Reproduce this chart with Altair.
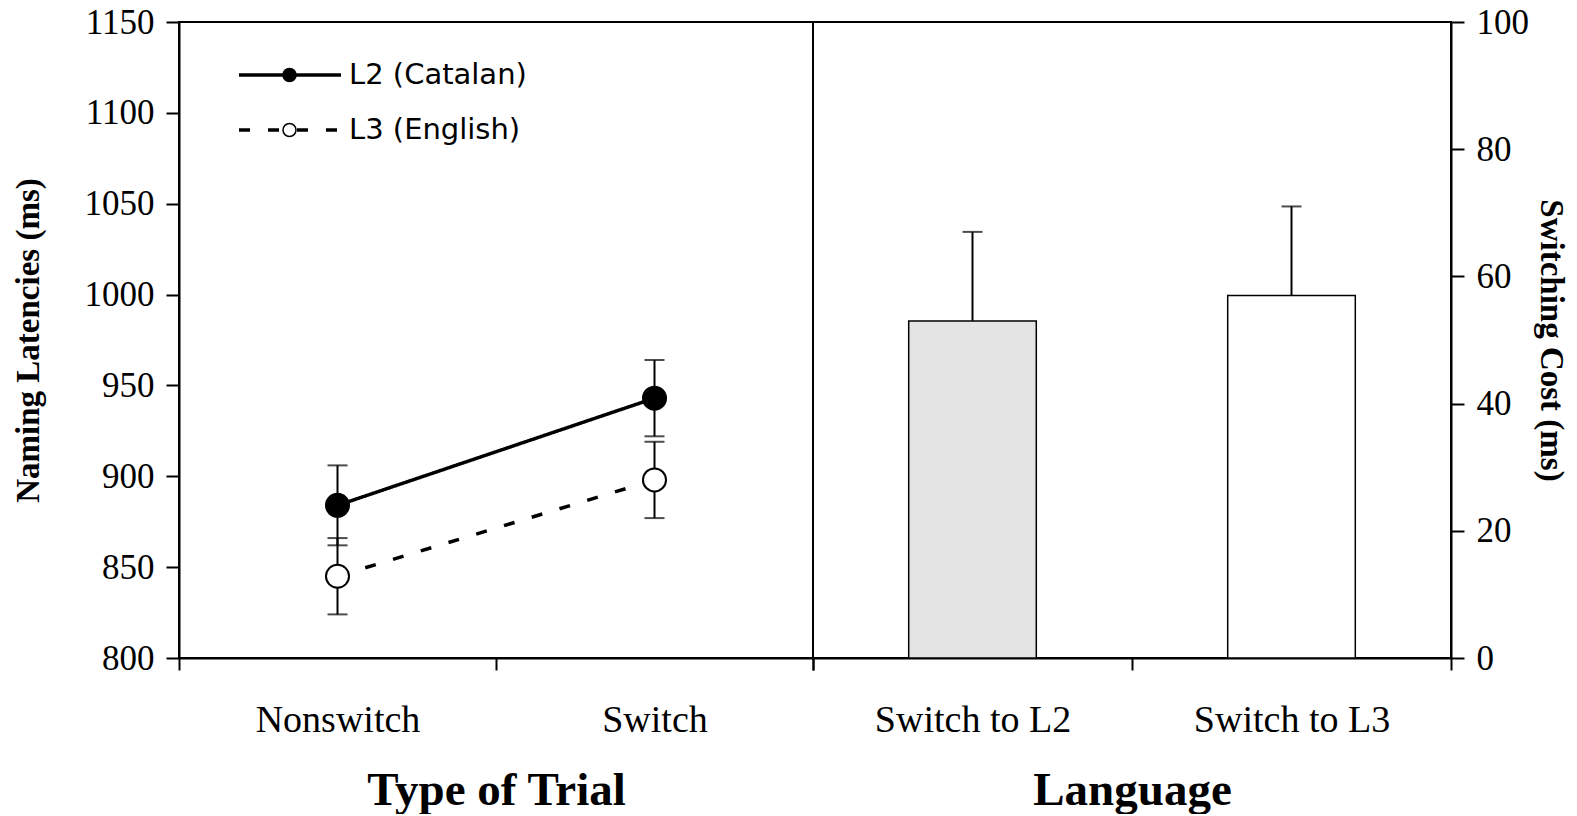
import altair as alt
import pandas as pd

# ---- data ----
trials = ["Nonswitch", "Switch"]
languages = ["L2 (Catalan)", "L3 (English)"]
l2_means = [884, 943]
l2_errors = [22, 21]
l3_means = [845, 898]
l3_errors = [21, 21]

cost_labels = ["Switch to L2", "Switch to L3"]
cost_means = [53, 57]
cost_errors = [14, 14]

SERIF = "Liberation Serif"
SANS = "DejaVu Sans"

rows = []
for lang, means, errs in [(languages[0], l2_means, l2_errors),
                          (languages[1], l3_means, l3_errors)]:
    for t, m, e in zip(trials, means, errs):
        rows.append({"trial": t, "lang": lang, "marker": lang,
                     "mean": m, "lo": m - e, "hi": m + e})
lat = pd.DataFrame(rows)
caps = lat.melt(id_vars=["trial", "lang"], value_vars=["lo", "hi"], value_name="cap")

cost = pd.DataFrame({
    "cond": cost_labels,
    "mean": cost_means,
    "hi": [m + e for m, e in zip(cost_means, cost_errors)],
})


def x_axis(title):
    return alt.Axis(
        title=title, tickBand="extent", labelAngle=0, tickSize=12, tickWidth=2,
        tickColor="black", domainColor="black", domainWidth=2,
        labelFont=SERIF, labelFontSize=38, labelColor="black", labelPadding=31,
        labelLimit=0,
        titleFont=SERIF, titleFontSize=47, titleFontWeight="bold",
        titleColor="black", titlePadding=28, grid=False,
    )


def y_axis(title, values, orient, tpad):
    return alt.Axis(
        title=title, values=values, orient=orient, grid=False, format="d",
        tickSize=13, tickWidth=2, tickColor="black",
        domainColor="black", domainWidth=2,
        labelFont=SERIF, labelFontSize=35, labelColor="black", labelPadding=12,
        titleFont=SERIF, titleFontSize=33, titleFontWeight="bold",
        titleColor="black", titlePadding=tpad,
    )


band = alt.Scale(type="band", paddingInner=0, paddingOuter=0)

# ---- left panel: naming latencies ----
xl = alt.X("trial:N", sort=trials, scale=band, axis=x_axis("Type of Trial"))
yl_scale = alt.Scale(domain=[800, 1150], nice=False, zero=False)

err_rule = alt.Chart(lat).mark_rule(color="black", strokeWidth=2).encode(
    x=xl,
    y=alt.Y("lo:Q", scale=yl_scale,
            axis=y_axis("Naming Latencies (ms)", list(range(800, 1151, 50)), "left", 39)),
    y2="hi:Q",
)
cap_ticks = alt.Chart(caps).mark_tick(color="black", thickness=2, size=20).encode(
    x=xl, y=alt.Y("cap:Q", scale=yl_scale),
)
lines = alt.Chart(lat).mark_line(color="black", strokeWidth=3.5).encode(
    x=xl,
    y=alt.Y("mean:Q", scale=yl_scale),
    strokeDash=alt.StrokeDash(
        "lang:N", sort=languages,
        scale=alt.Scale(domain=languages, range=[[1, 0], [11, 18]]),
        legend=alt.Legend(
            orient="none", legendX=58, legendY=33, title=None,
            symbolType="stroke", symbolSize=10404, symbolStrokeWidth=3.5,
            symbolStrokeColor="black", labelFont=SANS, labelFontSize=29,
            labelColor="black", labelOffset=6, labelLimit=0,
            clipHeight=40, rowPadding=15, padding=0,
        ),
    ),
)
points = alt.Chart(lat).mark_point(
    filled=True, shape="circle", size=530, stroke="black", strokeWidth=2, opacity=1
).encode(
    x=xl,
    y=alt.Y("mean:Q", scale=yl_scale),
    fill=alt.Fill(
        "marker:N", sort=languages,
        scale=alt.Scale(range=["black", "white"]),
        legend=alt.Legend(
            orient="none", legendX=103, legendY=33, title=None,
            symbolType="circle", symbolSize=169, symbolStrokeColor="black",
            symbolStrokeWidth=1.5, labelExpr="''", labelFontSize=1,
            clipHeight=40, rowPadding=15, padding=0, symbolOpacity=1,
        ),
    ),
)
left = alt.layer(err_rule, cap_ticks, lines, points).properties(width=634, height=636)

# ---- right panel: switching cost ----
xr = alt.X("cond:N", sort=cost_labels, scale=band, axis=x_axis("Language"))
yr_scale = alt.Scale(domain=[0, 100], nice=False)

bars = alt.Chart(cost).mark_bar(
    stroke="black", strokeWidth=1.5, width=alt.RelativeBandSize(band=0.4)
).encode(
    x=xr,
    y=alt.Y("mean:Q", scale=yr_scale,
            axis=y_axis("Switching Cost (ms)", list(range(0, 101, 20)), "right", 5)),
    fill=alt.Fill("cond:N", sort=cost_labels,
                  scale=alt.Scale(domain=cost_labels, range=["#e4e4e4", "white"]),
                  legend=None),
)
bar_err = alt.Chart(cost).mark_rule(color="black", strokeWidth=2).encode(
    x=xr, y=alt.Y("mean:Q", scale=yr_scale), y2="hi:Q",
)
bar_caps = alt.Chart(cost).mark_tick(color="black", thickness=2, size=20).encode(
    x=xr, y=alt.Y("hi:Q", scale=yr_scale),
)
right = alt.layer(bars, bar_err, bar_caps).properties(width=638, height=636)

chart = (
    alt.hconcat(left, right, spacing=0, bounds="flush")
    .resolve_scale(fill="independent", strokeDash="independent", y="independent")
    .resolve_legend(fill="independent", strokeDash="independent")
    .properties(padding={"left": 11, "top": 4, "right": 3, "bottom": 0},
                background="white")
    .configure_view(stroke="black", strokeWidth=2)
)

chart.save("out.html", embed_options={"renderer": "svg", "actions": False})
